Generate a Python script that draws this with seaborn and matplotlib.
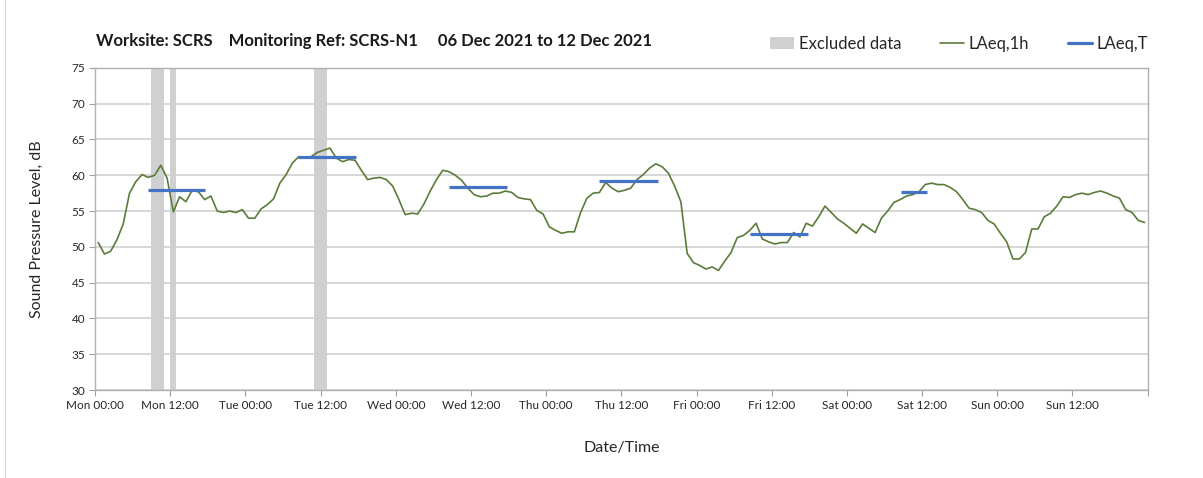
import numpy as np
import pandas as pd
import matplotlib
matplotlib.use("Agg")
import matplotlib.pyplot as plt
from matplotlib.patches import Patch
from matplotlib.lines import Line2D
import seaborn as sns

# hourly LAeq,1h values, Mon 06 Dec 2021 00:00 onwards
laeq_1h = [
    50.6, 49.0, 49.4, 51.0, 53.2, 57.5, 59.1, 60.1, 59.7, 60.0, 61.4, 59.6,
    54.9, 57.0, 56.3, 57.9, 57.7, 56.6, 57.1, 55.0, 54.8, 55.0, 54.8, 55.2,
    54.0, 54.0, 55.3, 55.9, 56.7, 58.9, 60.1, 61.7, 62.6, 62.4, 62.6, 63.2,
    63.5, 63.8, 62.4, 61.9, 62.2, 62.1, 60.7, 59.4, 59.6, 59.7, 59.4, 58.5,
    56.6, 54.5, 54.7, 54.6, 56.0, 57.8, 59.4, 60.7, 60.5, 60.0, 59.3, 58.2,
    57.3, 57.0, 57.1, 57.5, 57.5, 57.8, 57.6, 56.9, 56.7, 56.6, 55.1, 54.6,
    52.8, 52.3, 51.9, 52.1, 52.1, 54.8, 56.8, 57.5, 57.6, 59.0, 58.2, 57.7,
    57.9, 58.2, 59.4, 60.1, 61.0, 61.6, 61.2, 60.3, 58.5, 56.3, 49.1, 47.8,
    47.4, 46.9, 47.2, 46.7, 48.0, 49.2, 51.3, 51.6, 52.3, 53.3, 51.1, 50.7,
    50.4, 50.6, 50.6, 52.0, 51.4, 53.3, 52.9, 54.2, 55.7, 54.8, 53.9, 53.3,
    52.6, 51.9, 53.2, 52.6, 52.0, 54.0, 55.0, 56.2, 56.6, 57.1, 57.3, 57.7,
    58.7, 58.9, 58.7, 58.7, 58.3, 57.7, 56.6, 55.4, 55.2, 54.8, 53.7, 53.2,
    51.9, 50.7, 48.3, 48.3, 49.2, 52.5, 52.5, 54.2, 54.7, 55.7, 57.0, 56.9,
    57.3, 57.5, 57.3, 57.6, 57.8, 57.5, 57.1, 56.8, 55.2, 54.8, 53.7, 53.4,
]

# LAeq,T daytime periods (hours from Mon 00:00)
period_start = [8.4, 32.4, 56.5, 80.5, 104.5, 128.6]
period_end = [17.6, 41.6, 65.7, 89.8, 113.8, 132.8]
laeq_t = [58.0, 62.6, 58.3, 59.2, 51.8, 57.6]

# excluded data windows (hours from Mon 00:00)
excl_start = [9, 12, 35]
excl_end = [11, 13, 37]

days = ["Mon", "Tue", "Wed", "Thu", "Fri", "Sat", "Sun"]
tick_labels = [f"{d} {t}" for d in days for t in ("00:00", "12:00")] + [""]

title = "Worksite: SCRS    Monitoring Ref: SCRS-N1     06 Dec 2021 to 12 Dec 2021"

green = "#5b7b3a"
blue = "#4472c4"
grey = "#d0d0d0"

sns.set_theme(style="white")
plt.rcParams["font.family"] = ["Lato", "DejaVu Sans"]

df = pd.DataFrame({"hour": np.arange(len(laeq_1h)) + 0.5, "LAeq,1h": laeq_1h})

fig, ax = plt.subplots(figsize=(12.03, 4.78), dpi=100)
fig.subplots_adjust(left=0.079, right=0.954, top=0.858, bottom=0.184)

for s, e in zip(excl_start, excl_end):
    ax.axvspan(s, e, color=grey, lw=0, zorder=1)

sns.lineplot(data=df, x="hour", y="LAeq,1h", ax=ax, color=green, lw=1.2, zorder=3)
ax.hlines(laeq_t, period_start, period_end, color=blue, lw=2.3, zorder=4)

ax.set_xlim(0, 168)
ax.set_ylim(30, 75)
ax.set_yticks(range(30, 76, 5))
ax.set_xticks(range(0, 169, 12))
ax.set_xticklabels(tick_labels)
ax.set_xticks(range(0, 169, 24), minor=True)

ax.yaxis.grid(True, color="#d4d4d4", lw=1.3)
ax.xaxis.grid(False, which="major")
ax.xaxis.grid(True, which="minor", color="#d9d9d9", lw=1.3)
ax.set_axisbelow(True)

ax.tick_params(axis="both", which="major", direction="out", length=4, width=0.8,
               color="#a0a0a0", labelsize=8.5, labelcolor="#262626", pad=3)
ax.tick_params(axis="x", which="minor", length=0)
ax.tick_params(axis="x", which="major", bottom=True)
ax.tick_params(axis="y", which="major", left=True)
for sp in ax.spines.values():
    sp.set_color("#b0b0b0")
    sp.set_linewidth(1.0)

ax.set_xlabel("Date/Time", fontsize=11.5, color="#262626", labelpad=22)
ax.set_ylabel("Sound Pressure Level, dB", fontsize=11.5, color="#262626", labelpad=20)

fig.text(96 / 1203, 1 - 41 / 478, title, fontsize=12, fontweight="bold",
         color="#1a1a1a", va="center", ha="left")

handles = [
    Patch(facecolor=grey, edgecolor="none"),
    Line2D([], [], color=green, lw=1.2),
    Line2D([], [], color=blue, lw=2.3),
]
fig.legend(handles, ["Excluded data", "LAeq,1h", "LAeq,T"], loc="center right",
           bbox_to_anchor=(0.967, 1 - 44 / 478), ncol=3, frameon=False,
           fontsize=12, handlelength=1.45, handletextpad=0.3, columnspacing=2.3,
           labelcolor="#262626")

fig.add_artist(Line2D([5 / 1203, 5 / 1203], [0, 1], color="#d9d9d9", lw=1.0))

fig.savefig("out.png", dpi=100)
